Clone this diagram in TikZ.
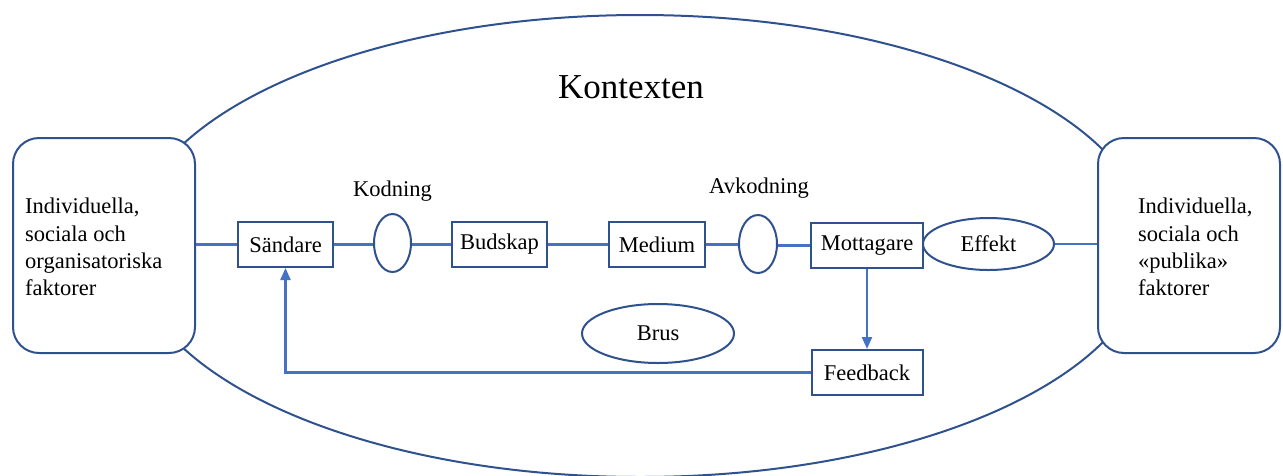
\documentclass[tikz,border=0pt]{standalone}
\usepackage{fontspec}
\setmainfont{Liberation Serif}
\usetikzlibrary{shapes.geometric,arrows.meta}
\definecolor{boxblue}{HTML}{2F528F}
\definecolor{lineblue}{HTML}{4472C4}
\begin{document}
\begin{tikzpicture}[x=1pt,y=-1pt,
  every node/.style={font=\fontsize{22.5}{27.3}\selectfont, text=black},
  rbox/.style={draw=boxblue, line width=2pt, fill=white, rectangle, inner sep=0pt},
  ebox/.style={draw=boxblue, line width=2pt, fill=white, ellipse, inner sep=0pt},
  sidebox/.style={draw=boxblue, line width=2pt, fill=white, rectangle, rounded corners=26pt,
     minimum width=182pt, minimum height=215pt, inner sep=0pt},
  conn/.style={draw=lineblue, line width=2.2pt},
  arr/.style={conn, -{Triangle[length=12pt,width=10pt]}}
]
\useasboundingbox (0,0) rectangle (1283,475);
% context ellipse
\draw[boxblue, line width=2pt] (640,246) ellipse [x radius=509pt, y radius=231pt];
\node[anchor=base, font=\fontsize{35}{40}\selectfont] (kontext) at (631,98) {Kontexten};

% side boxes
\node[sidebox] (left) at (104,245.5) {};
\node[sidebox] (right) at (1189,245.5) {};
\node[anchor=west, align=left, inner sep=0pt] (lefttext) at (25,247)
  {Individuella,\\sociala och\\organisatoriska\\faktorer};
\node[anchor=west, align=left, inner sep=0pt] (righttext) at (1138,247)
  {Individuella,\\sociala och\\«publika»\\faktorer};

% chain
\node[rbox, minimum width=95pt, minimum height=45pt] (sender) at (285.5,244.5) {Sändare};
\node[ebox, minimum width=37pt, minimum height=58pt] (kod) at (392.5,243) {};
\node[rbox, minimum width=95pt, minimum height=45pt] (budskap) at (499.5,244.5) {Budskap};
\node[rbox, minimum width=96pt, minimum height=45pt] (medium) at (657,244.5) {Medium};
\node[ebox, minimum width=38pt, minimum height=58pt] (avkod) at (758,244) {};
\node[rbox, minimum width=112pt, minimum height=45pt] (mott) at (867,245.5) {Mottagare};
\node[ebox, minimum width=131pt, minimum height=52pt] (effekt) at (988.5,244) {Effekt};
\node[rbox, minimum width=111pt, minimum height=45pt] (feedback) at (867,372.5) {Feedback};
\node[ebox, minimum width=152pt, minimum height=59pt] (brus) at (658,333.5) {Brus};

\node[anchor=base] (kodlbl) at (392.5,196) {Kodning};
\node[anchor=base] (avkodlbl) at (759,193) {Avkodning};

% connectors
\draw[conn] (left.east |- sender.west) -- (sender.west);
\draw[conn] (sender.east) -- (kod.west |- sender.east);
\draw[conn] (kod.east |- budskap.west) -- (budskap.west);
\draw[conn] (budskap.east) -- (medium.west);
\draw[conn] (medium.east) -- (avkod.west |- medium.east);
\draw[conn] (avkod.east |- mott.west) -- (mott.west);
\draw[conn] (effekt.east) -- (right.west |- effekt.east);
\draw[arr] (mott.south) -- (mott.south |- feedback.north);
\coordinate (corner) at (sender.south |- feedback.west);
\draw[arr] (feedback.west) -- (corner) -- (sender.south);
\end{tikzpicture}
\end{document}
